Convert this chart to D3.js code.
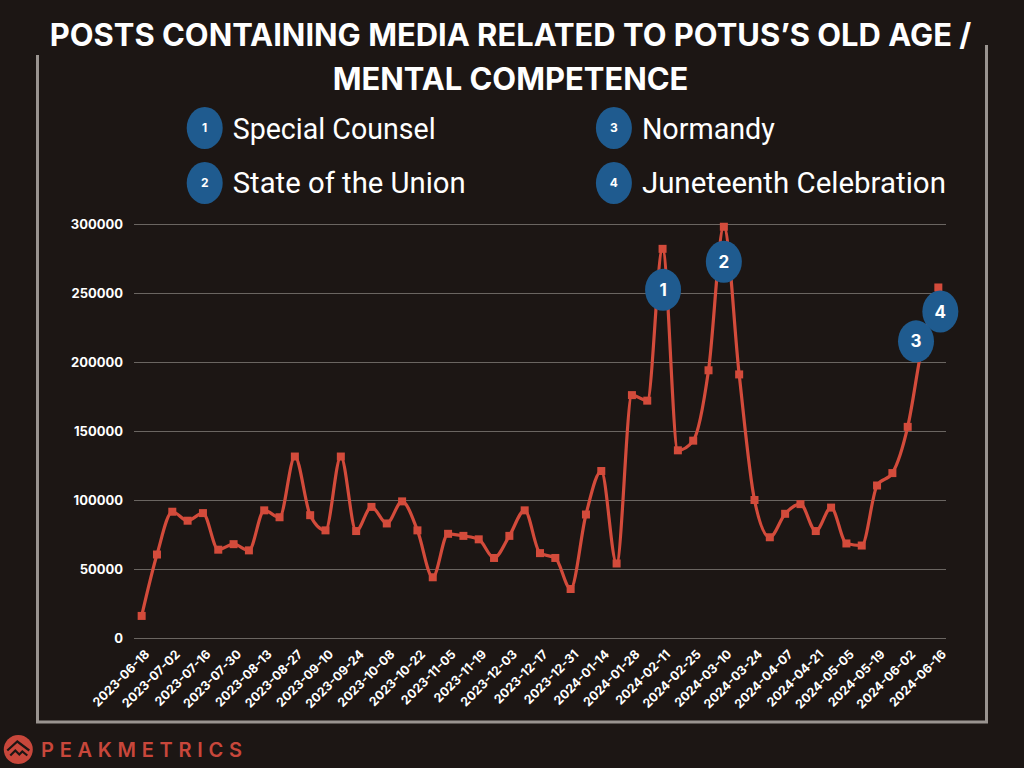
<!DOCTYPE html>
<html><head><meta charset="utf-8">
<script src="https://cdn.jsdelivr.net/npm/d3@7"></script>
<style>html,body{margin:0;padding:0;background:#1c1614;} svg{display:block;}</style>
</head><body>
<svg id="c" width="1024" height="768"></svg>
<script>
// ---------- DATA ----------
const dates = [
  "2023-06-18","2023-06-25","2023-07-02","2023-07-09","2023-07-16","2023-07-23","2023-07-30",
  "2023-08-06","2023-08-13","2023-08-20","2023-08-27","2023-09-03","2023-09-10","2023-09-17",
  "2023-09-24","2023-10-01","2023-10-08","2023-10-15","2023-10-22","2023-10-29","2023-11-05",
  "2023-11-12","2023-11-19","2023-11-26","2023-12-03","2023-12-10","2023-12-17","2023-12-24",
  "2023-12-31","2024-01-07","2024-01-14","2024-01-21","2024-01-28","2024-02-04","2024-02-11",
  "2024-02-18","2024-02-25","2024-03-03","2024-03-10","2024-03-17","2024-03-24","2024-03-31",
  "2024-04-07","2024-04-14","2024-04-21","2024-04-28","2024-05-05","2024-05-12","2024-05-19",
  "2024-05-26","2024-06-02","2024-06-09","2024-06-16"
];
const posts = [
  16000, 60500, 91500, 85000, 90500, 64000, 68000,
  63500, 92500, 87500, 131500, 89000, 78000, 131500,
  77500, 95000, 83000, 99000, 78000, 44000, 75500,
  74000, 71500, 58000, 74000, 92500, 61500, 58000,
  35500, 89500, 121000, 54000, 176000, 172000, 282000,
  136000, 143000, 194000, 298000, 191000, 100000, 73000,
  90000, 97000, 77500, 94500, 68500, 67000, 110500,
  119500, 153000, 215000, 254000
];
const xTickLabels = [
  "2023-06-18","2023-07-02","2023-07-16","2023-07-30","2023-08-13","2023-08-27","2023-09-10",
  "2023-09-24","2023-10-08","2023-10-22","2023-11-05","2023-11-19","2023-12-03","2023-12-17",
  "2023-12-31","2024-01-14","2024-01-28","2024-02-11","2024-02-25","2024-03-10","2024-03-24",
  "2024-04-07","2024-04-21","2024-05-05","2024-05-19","2024-06-02","2024-06-16"
];
const yTickValues = [0, 50000, 100000, 150000, 200000, 250000, 300000];
const eventNumbers = [1, 2, 3, 4];
const eventNames = ["Special Counsel", "State of the Union", "Normandy", "Juneteenth Celebration"];
const eventDates = ["2024-02-11", "2024-03-10", "2024-06-09", "2024-06-16"];
const titleLines = ["POSTS CONTAINING MEDIA RELATED TO POTUS\u2019S OLD AGE /", "MENTAL COMPETENCE"];
const brand = "PEAKMETRICS";

// ---------- LAYOUT / STYLE ----------
const BG = "#1c1614", RED = "#d34b3b", BLUE = "#1f5b8f", GRID = "#6a6561", FRAME = "#9a9490";
const annOffsets = [[0.5, 41], [0, 35], [-7, 0], [2, 24]];
const legendPos = [[204.7, 128, 138.5], [204.7, 183, 193], [613.9, 128, 138.5], [613.9, 183, 193]];
const legendWidths = [203, 233, 133, 304];

const svg = d3.select("#c");
svg.append("rect").attr("width", 1024).attr("height", 768).attr("fill", BG);

const x = d3.scalePoint().domain(dates).range([134, 946]).padding(0.5);
const y = d3.scaleLinear().domain([0, 300000]).range([638, 224]);

// frame
svg.append("path").attr("d", "M37.5,55 V722 H986.5 V45")
  .attr("fill", "none").attr("stroke", FRAME).attr("stroke-width", 3);

// title
const title = svg.append("g");
const t1 = title.append("text").text(titleLines[0])
  .attr("x", 510.5).attr("y", 45.5).attr("text-anchor", "middle")
  .attr("fill", "#fff").attr("font-family", "Inter, 'Open Sans', sans-serif")
  .attr("font-weight", 700).attr("font-size", 30);
const w1 = t1.node().getComputedTextLength();
const fs = 30 * 922 / w1;
t1.attr("font-size", fs);
title.append("text").text(titleLines[1])
  .attr("x", 510.5).attr("y", 89.5).attr("text-anchor", "middle")
  .attr("fill", "#fff").attr("font-family", "Inter, 'Open Sans', sans-serif")
  .attr("font-weight", 700).attr("font-size", fs);

// legend
const lg = svg.append("g").selectAll("g").data(eventNumbers).join("g");
lg.append("ellipse").attr("cx", (d, i) => legendPos[i][0]).attr("cy", (d, i) => legendPos[i][1])
  .attr("rx", 18).attr("ry", 21).attr("fill", BLUE);
lg.append("text").text(d => d)
  .attr("x", (d, i) => legendPos[i][0]).attr("y", (d, i) => legendPos[i][1])
  .attr("dy", "0.36em").attr("text-anchor", "middle").attr("fill", "#fff")
  .attr("font-family", "Inter, sans-serif").attr("font-weight", 700).attr("font-size", 12);
lg.append("text").text((d, i) => eventNames[i])
  .attr("x", (d, i) => legendPos[i][0] + 28).attr("y", (d, i) => legendPos[i][2])
  .attr("fill", "#fff").attr("font-family", "Roboto, sans-serif").attr("font-weight", 400)
  .attr("font-size", 29).attr("textLength", (d, i) => legendWidths[i])
  .attr("lengthAdjust", "spacingAndGlyphs");

// y axis + grid
const yAxis = svg.append("g").attr("transform", "translate(134,0)")
  .call(d3.axisLeft(y).tickValues(yTickValues).tickSize(-(946 - 134)).tickPadding(11).tickFormat(d3.format("d")));
yAxis.select(".domain").remove();
yAxis.selectAll(".tick line").attr("stroke", GRID).attr("stroke-width", 1);
yAxis.selectAll(".tick text").attr("fill", "#fff")
  .attr("font-family", "Inter, 'Open Sans', sans-serif").attr("font-weight", 700).attr("font-size", 13);

// x axis
const xAxis = svg.append("g").attr("transform", "translate(0,638)")
  .call(d3.axisBottom(x).tickValues(xTickLabels).tickSize(0));
xAxis.select(".domain").remove();
xAxis.selectAll(".tick text")
  .attr("x", 0).attr("y", 0).attr("dy", "0.35em")
  .attr("text-anchor", "end")
  .attr("transform", "translate(5,14) rotate(-45)")
  .attr("fill", "#fff").attr("font-family", "Inter, 'Open Sans', sans-serif")
  .attr("font-weight", 700).attr("font-size", 12.5);

// line
const series = dates.map((d, i) => ({date: d, v: posts[i]}));
const line = d3.line().x(d => x(d.date)).y(d => y(d.v)).curve(d3.curveMonotoneX);
svg.append("path").datum(series).attr("d", line)
  .attr("fill", "none").attr("stroke", RED).attr("stroke-width", 3.2).attr("stroke-linejoin", "round");
svg.append("g").selectAll("rect").data(series).join("rect")
  .attr("x", d => x(d.date) - 4).attr("y", d => y(d.v) - 4)
  .attr("width", 8).attr("height", 8).attr("fill", RED);

// annotations
const ann = svg.append("g").selectAll("g").data(eventNumbers).join("g")
  .attr("transform", (d, i) => {
    const v = posts[dates.indexOf(eventDates[i])];
    return `translate(${x(eventDates[i]) + annOffsets[i][0]},${y(v) + annOffsets[i][1]})`;
  });
ann.append("ellipse").attr("rx", 18).attr("ry", 21).attr("fill", BLUE);
ann.append("text").text(d => d).attr("dy", "0.36em").attr("text-anchor", "middle")
  .attr("fill", "#fff").attr("font-family", "Inter, sans-serif").attr("font-weight", 700).attr("font-size", 17);

// brand
const logo = svg.append("g").attr("transform", "translate(18.3,749.5)");
logo.append("circle").attr("r", 14.5).attr("fill", "#c8473b");
logo.append("path").attr("d", "M-11,1 L-1,-8 L11,1 M-8,6 L-3,1 L1,5 L4,2 L9,6")
  .attr("fill", "none").attr("stroke", BG).attr("stroke-width", 2.2).attr("stroke-linejoin", "miter");
svg.append("text").text(brand).attr("x", 41).attr("y", 757.3)
  .attr("fill", "#c8473b").attr("font-family", "Inter, 'Open Sans', sans-serif")
  .attr("font-weight", 600).attr("font-size", 20)
  .attr("textLength", 201).attr("lengthAdjust", "spacing");
</script>
</body></html>
